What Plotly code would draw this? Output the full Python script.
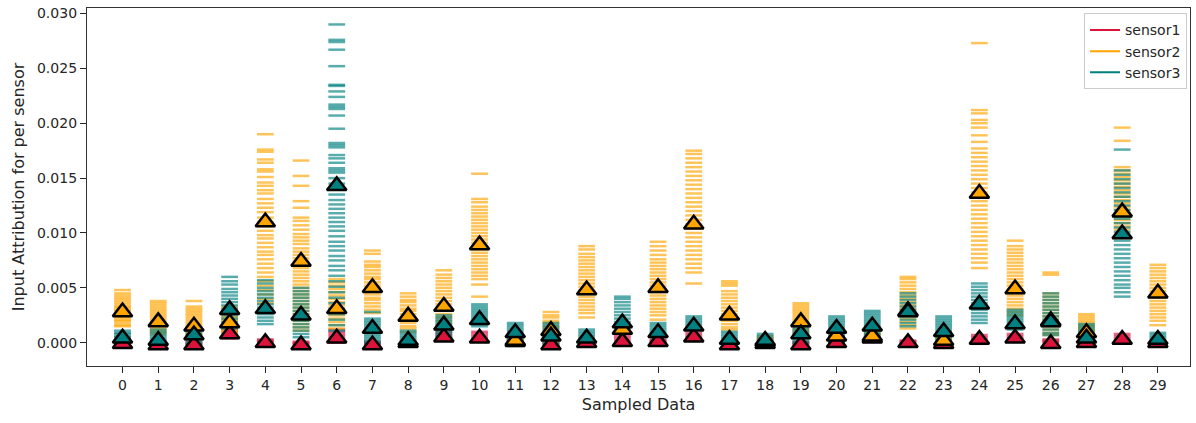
import plotly.graph_objects as go

# ---------------- data (values in units of 1e-3) ----------------
categories = list(range(30))
x_tick_labels = [str(c) for c in categories]
y_tick_values = [0, 5, 10, 15, 20, 25, 30]
y_tick_labels = ["0.000", "0.005", "0.010", "0.015", "0.020", "0.025", "0.030"]
sensor_names = ["sensor1", "sensor2", "sensor3"]

sensor1_samples = [
    [0.1, 0.0, -0.1, -0.2], [0.1, 0.0, -0.1, -0.2], [0.2, 0.0, -0.1, -0.2],
    [1.2, 1.0, 0.8, 0.6, 0.4], [0.3, 0.2, 0.1, 0.0], [0.1, 0.0, -0.1, -0.2],
    [1.2, 1.0, 0.8, 0.6, 0.4, 0.2, 0.0], [0.1, 0.0, -0.1, -0.2], [0.1, 0.0, -0.1],
    [1.2, 1.0, 0.8, 0.6, 0.4, 0.2], [1.0, 0.8, 0.6, 0.4, 0.2, 0.1], [0.3, 0.2, 0.1, 0.0],
    [0.1, 0.0, -0.1, -0.2], [0.2, 0.1, 0.0, -0.1], [0.6, 0.4, 0.2, 0.0, -0.1],
    [0.3, 0.2, 0.1, 0.0], [0.9, 0.7, 0.5, 0.3, 0.2], [0.1, 0.0, -0.1, -0.2],
    [0.1, 0.0, -0.1], [0.1, 0.0, -0.1, -0.2], [0.2, 0.1, 0.0, -0.1],
    [0.5, 0.4, 0.3], [0.2, 0.1, 0.0], [0.1, 0.0, -0.1, -0.2],
    [0.7, 0.5, 0.3, 0.1, -0.1], [0.8, 0.6, 0.4, 0.2], [0.3, 0.2, 0.1, 0.0],
    [0.2, 0.1, 0.0, -0.1], [0.8, 0.6, 0.4, 0.2], [0.1, 0.0, -0.1, -0.2],
]

sensor2_samples = [
    [4.8, 4.5, 4.3, 4.1, 3.9, 3.7, 3.5, 3.3, 3.2, 3.0, 2.9, 2.7, 2.6, 2.4, 2.3, 2.1, 2.0, 1.8, 1.6, 1.5],
    [3.8, 3.6, 3.4, 3.2, 3.0, 2.8, 2.6, 2.4, 2.2, 2.0, 1.8, 1.6, 1.4, 1.2, 1.0, 0.8],
    [3.8, 3.3, 3.1, 2.9, 2.7, 2.5, 2.3, 2.1, 1.9, 1.7, 1.5, 1.3, 1.1, 0.9, 0.7, 0.5],
    [3.3, 3.0, 2.8, 2.6, 2.4, 2.2, 2.0, 1.8, 1.6, 1.4, 1.2, 1.0, 0.8],
    [19.0, 17.6, 17.4, 16.7, 16.4, 15.8, 15.6, 15.1, 14.6, 14.3, 13.9, 13.6, 13.1, 12.7, 12.3,
     11.9, 11.4, 11.0, 10.6, 10.2, 9.8, 9.5, 9.1, 8.7, 8.3, 8.0, 7.6, 7.2, 6.8, 6.4, 6.0, 5.6,
     5.2, 4.8, 4.4, 4.0, 3.6],
    [16.6, 15.2, 14.3, 12.9, 12.3, 11.4, 11.1, 10.7, 10.3, 9.9, 9.6, 9.3, 9.0, 8.6, 8.3, 8.0,
     7.7, 7.4, 7.1, 6.8, 6.5, 6.2, 5.9, 5.6, 5.3, 5.0, 4.7, 4.4, 4.1, 3.8, 3.5, 3.2, 2.9, 2.6,
     2.3, 2.0, 1.7, 1.4, 1.1],
    [5.8, 5.5, 5.2, 4.9, 4.6, 4.3, 4.0, 3.7, 3.4, 3.1, 2.8, 2.5, 2.2, 1.9, 1.6, 1.3],
    [8.4, 8.1, 7.4, 7.1, 6.9, 6.6, 6.3, 6.0, 5.8, 5.5, 5.2, 5.0, 4.7, 4.4, 4.1, 3.9, 3.6, 3.3, 3.0, 2.7],
    [4.5, 4.2, 3.9, 3.7, 3.4, 3.1, 2.9, 2.6, 2.3, 2.1, 1.8, 1.5, 1.3, 1.0],
    [6.6, 6.2, 5.9, 5.6, 5.3, 5.0, 4.7, 4.4, 4.1, 3.8, 3.5, 3.2, 2.9, 2.6, 2.3, 2.0, 1.7, 1.4, 1.2],
    [15.4, 13.1, 12.8, 12.4, 12.1, 11.8, 11.5, 11.2, 10.9, 10.6, 10.3, 10.0, 9.7, 9.4, 9.1, 8.8,
     8.5, 8.2, 7.9, 7.6, 7.3, 7.0, 6.7, 6.4, 6.1, 5.8, 5.3, 4.2],
    [0.6, 0.5, 0.4, 0.3, 0.2, 0.1, 0.0],
    [2.8, 2.5, 2.3, 2.0, 1.8, 1.5, 1.3, 1.0, 0.8, 0.5, 0.3, 0.1],
    [8.8, 8.5, 8.1, 7.8, 7.5, 7.2, 6.9, 6.6, 6.3, 6.0, 5.7, 5.4, 5.1, 4.8, 4.5, 4.2, 3.9, 3.6,
     3.3, 3.0, 2.7, 2.3],
    [1.6, 1.4, 1.3, 1.2, 1.0, 0.9],
    [9.2, 8.8, 8.4, 8.0, 7.6, 7.3, 7.0, 6.7, 6.4, 6.1, 5.8, 5.5, 5.2, 4.9, 4.6, 4.3, 4.0, 3.7,
     3.4, 3.1, 2.8, 2.5, 2.1],
    [17.5, 17.2, 16.8, 16.4, 16.0, 15.6, 15.2, 14.8, 14.4, 14.0, 13.6, 13.2, 12.8, 12.4, 12.0,
     11.6, 11.2, 10.8, 10.4, 10.0, 9.6, 9.2, 8.8, 8.4, 8.0, 7.6, 7.2, 6.8, 6.4, 5.4],
    [5.6, 5.4, 5.2, 4.7, 4.4, 4.1, 3.8, 3.5, 3.2, 2.9, 2.6, 2.3, 2.0, 1.7, 1.4, 1.2],
    [0.6, 0.4, 0.3, 0.1, 0.0],
    [3.6, 3.4, 3.2, 3.0, 2.8, 2.6, 2.4, 2.2, 2.0, 1.8, 1.6, 1.4, 1.2, 1.0, 0.8],
    [0.9, 0.8, 0.7, 0.6, 0.5, 0.4, 0.3, 0.2],
    [0.9, 0.8, 0.7, 0.6, 0.5, 0.4, 0.3],
    [6.0, 5.8, 5.5, 5.2, 4.9, 4.6, 4.3, 4.0, 3.7, 3.4, 3.1, 2.8, 2.5, 2.2, 1.9, 1.6, 1.3],
    [0.6, 0.5, 0.4, 0.3, 0.2, 0.1, 0.0, -0.2],
    [27.3, 21.2, 20.9, 20.3, 20.0, 19.6, 18.9, 18.3, 17.7, 17.3, 16.9, 16.5, 16.1, 15.7, 15.3,
     14.9, 14.5, 14.1, 13.7, 13.3, 12.9, 12.5, 12.1, 11.7, 11.3, 10.9, 10.5, 10.1, 9.7, 9.3,
     8.9, 8.5, 8.1, 7.7, 7.3, 6.8],
    [9.3, 8.8, 8.5, 8.2, 7.9, 7.6, 7.3, 7.0, 6.7, 6.4, 6.1, 5.8, 5.5, 5.2, 4.9, 4.6, 4.3, 4.0,
     3.7, 3.4, 3.1, 2.8, 2.5],
    [6.4, 6.2, 4.5, 4.2, 3.9, 3.6, 3.3, 3.0, 2.7, 2.4, 2.1, 1.8, 1.5, 1.2, 0.9, 0.7],
    [2.6, 2.4, 2.2, 2.0, 1.8, 1.6, 1.4, 1.2, 1.0, 0.8, 0.6, 0.4, 0.2, 0.0],
    [19.6, 18.4, 16.0, 15.7, 15.4, 15.1, 14.8, 14.5, 14.2, 13.9, 13.6, 13.3, 13.0, 12.7, 12.4,
     12.1, 11.8, 11.5, 11.2, 10.9, 10.6, 10.3],
    [7.1, 6.8, 6.5, 6.2, 5.9, 5.6, 5.3, 5.0, 4.7, 4.4, 4.1, 3.8, 3.5, 3.2, 2.9, 2.6, 2.3, 2.0, 1.6],
]

sensor3_samples = [
    [1.1, 0.9, 0.8, 0.6, 0.5, 0.3, 0.2, 0.0, -0.2, -0.4],
    [1.2, 1.0, 0.8, 0.6, 0.4, 0.2, 0.0, -0.2, -0.3],
    [1.3, 1.1, 0.9, 0.7, 0.5, 0.3, 0.1, -0.1],
    [6.0, 5.6, 5.3, 4.9, 4.6, 4.3, 4.0, 3.7, 3.4, 3.1, 2.8, 2.5, 2.2, 1.9, 1.6, 1.3],
    [5.7, 5.4, 5.0, 4.7, 4.4, 4.1, 3.8, 3.5, 3.2, 2.9, 2.6, 2.3, 2.0, 1.7],
    [5.0, 4.7, 4.4, 4.1, 3.8, 3.5, 3.2, 2.9, 2.6, 2.3, 2.0, 1.7, 1.4, 1.1, 0.8, 0.5],
    [29.0, 27.6, 27.4, 26.7, 25.2, 23.5, 23.4, 22.9, 22.4, 21.7, 21.5, 21.3, 20.7, 19.5, 18.2,
     18.0, 17.8, 17.1, 16.8, 16.4, 15.9, 15.7, 15.5, 15.0, 14.5, 14.0, 13.5, 13.0, 12.6, 12.2,
     11.8, 11.4, 11.0, 10.6, 10.2, 9.7, 9.2, 8.8, 8.4, 7.9, 7.5, 7.0, 6.6, 6.1, 5.6, 5.1, 4.6,
     4.1, 3.6, 3.1, 2.6, 2.1, 1.6, 1.1],
    [2.8, 2.2, 2.0, 1.8, 1.6, 1.4, 1.2, 1.0, 0.8, 0.6, 0.4, 0.2, 0.0],
    [1.1, 0.9, 0.7, 0.5, 0.3, 0.1, -0.1, -0.2],
    [2.5, 2.3, 2.1, 1.9, 1.7, 1.5, 1.3, 1.1, 0.9, 0.7, 0.5],
    [3.5, 3.3, 3.1, 2.9, 2.7, 2.5, 2.3, 2.1, 1.9, 1.7, 1.5],
    [1.8, 1.6, 1.4, 1.2, 1.0, 0.8, 0.6, 0.4, 0.2, 0.0, -0.2, -0.3],
    [1.8, 1.6, 1.4, 1.2, 1.0, 0.8, 0.6, 0.4, 0.2, 0.0, -0.2, -0.3],
    [1.2, 1.0, 0.8, 0.6, 0.4, 0.2, 0.0, -0.2],
    [4.2, 4.0, 3.7, 3.4, 3.1, 2.8, 2.5, 2.2, 1.9, 1.6, 1.3, 1.0],
    [1.8, 1.6, 1.4, 1.2, 1.0, 0.8, 0.6, 0.5],
    [2.4, 2.2, 2.0, 1.8, 1.6, 1.4, 1.2],
    [1.0, 0.8, 0.6, 0.4, 0.2, 0.0, -0.2, -0.3],
    [0.8, 0.6, 0.4, 0.2, 0.0, -0.2],
    [1.8, 1.6, 1.4, 1.2, 1.0, 0.8, 0.6, 0.4, 0.2, 0.0],
    [2.4, 2.2, 2.0, 1.8, 1.6, 1.4, 1.2, 1.0, 0.8, 0.6, 0.4, 0.2, 0.0, -0.2, -0.3],
    [2.9, 2.7, 2.5, 2.3, 2.1, 1.9, 1.7, 1.5, 1.3, 1.1, 0.9, 0.7, 0.5],
    [4.5, 4.2, 3.9, 3.6, 3.3, 3.0, 2.7, 2.4, 2.1, 1.8, 1.5],
    [2.4, 2.2, 2.0, 1.8, 1.6, 1.4, 1.2, 1.0, 0.8, 0.6, 0.4, 0.2, 0.0, -0.2, -0.4],
    [5.4, 5.1, 4.8, 4.5, 4.2, 3.9, 3.6, 3.3, 3.0, 2.7, 2.4, 2.1, 1.8],
    [3.0, 2.8, 2.6, 2.4, 2.2, 2.0, 1.8, 1.6, 1.4, 1.2],
    [4.5, 4.2, 3.9, 3.6, 3.3, 3.0, 2.7, 2.4, 2.1, 1.8, 1.5, 1.2, 0.9, 0.7],
    [1.7, 1.5, 1.3, 1.1, 0.9, 0.7, 0.5, 0.3, 0.1, -0.1, -0.2],
    [17.6, 15.7, 15.3, 14.9, 14.5, 14.1, 13.7, 13.3, 12.9, 12.5, 12.1, 11.7, 11.3, 10.9, 10.5,
     10.1, 9.7, 9.3, 8.9, 8.5, 8.1, 7.7, 7.3, 6.9, 6.5, 6.1, 5.7, 5.3, 5.0, 4.6, 4.2],
    [0.9, 0.7, 0.5, 0.3, 0.1, -0.1, -0.3],
]

sensor1_mean = [-0.1, -0.2, -0.2, 0.8, 0.0, -0.2, 0.4, -0.2, 0.0, 0.5, 0.4, 0.1, -0.2, 0.0, 0.1,
                0.1, 0.5, -0.2, -0.1, -0.2, 0.0, 0.4, 0.0, -0.1, 0.3, 0.4, -0.1, 0.0, 0.3, 0.0]
sensor2_mean = [2.8, 1.9, 1.5, 1.8, 11.0, 7.4, 3.1, 5.0, 2.4, 3.3, 8.9, 0.2, 1.1, 4.8, 1.2,
                5.0, 10.8, 2.5, 0.1, 1.9, 0.6, 0.6, 2.9, 0.2, 13.6, 4.9, 2.0, 0.9, 11.9, 4.5]
sensor3_mean = [0.4, 0.2, 0.7, 3.0, 3.1, 2.5, 14.3, 1.3, 0.2, 1.6, 2.1, 0.9, 0.6, 0.4, 1.8,
                0.9, 1.5, 0.3, 0.2, 0.8, 1.3, 1.5, 2.8, 1.0, 3.5, 1.7, 1.9, 0.4, 9.9, 0.3]

# ---------------- styling ----------------
solid_colors = ["#DC143C", "#FFA500", "#008080"]
dash_colors = ["rgba(220,20,60,0.65)", "rgba(255,165,0,0.65)", "rgba(0,128,128,0.65)"]
text_color = "#262626"
font_family = "DejaVu Sans, sans-serif"

fig = go.Figure()

all_samples = [sensor1_samples, sensor2_samples, sensor3_samples]
all_means = [sensor1_mean, sensor2_mean, sensor3_mean]

for samples, dcol in zip(all_samples, dash_colors):
    xs, ys = [], []
    for c, vals in zip(categories, samples):
        xs.extend([c] * len(vals))
        ys.extend(vals)
    fig.add_trace(go.Scatter(
        x=xs, y=ys, mode="markers", showlegend=False, hoverinfo="skip",
        marker=dict(symbol="line-ew", size=12, line=dict(width=2.5, color=dcol)),
    ))

for means, col in zip(all_means, solid_colors):
    fig.add_trace(go.Scatter(
        x=categories, y=means, mode="markers", showlegend=False,
        marker=dict(symbol="triangle-up", size=17, color=col,
                    line=dict(width=2.5, color="black")),
    ))

for name, col in zip(sensor_names, solid_colors):
    fig.add_trace(go.Scatter(
        x=[None], y=[None], mode="lines", name=name,
        line=dict(color=col, width=2),
    ))

fig.update_layout(
    width=1196, height=423,
    margin=dict(l=87, r=5, t=6, b=57),
    paper_bgcolor="white", plot_bgcolor="white",
    font=dict(family=font_family, size=14, color=text_color),
    legend=dict(
        x=0.9973, y=0.985, xanchor="right", yanchor="top",
        bgcolor="rgba(255,255,255,0.8)", bordercolor="#cccccc", borderwidth=1,
        font=dict(size=14, color=text_color), itemwidth=30,
    ),
)

fig.update_xaxes(
    range=[-0.995, 29.9],
    tickmode="array", tickvals=categories, ticktext=x_tick_labels,
    ticks="outside", ticklen=6, tickwidth=1.2, tickcolor=text_color,
    showline=True, mirror=True, linecolor="#333333", linewidth=1.3,
    showgrid=False, zeroline=False,
    title=dict(text="Sampled Data", font=dict(size=16), standoff=6),
    tickfont=dict(size=14),
)
fig.update_yaxes(
    range=[-2.12, 30.5],
    tickmode="array", tickvals=y_tick_values, ticktext=y_tick_labels,
    ticks="outside", ticklen=6, tickwidth=1.2, tickcolor=text_color,
    showline=True, mirror=True, linecolor="#333333", linewidth=1.3,
    showgrid=False, zeroline=False,
    title=dict(text="Input Attribution for per sensor", font=dict(size=16), standoff=8),
    tickfont=dict(size=14),
)

fig.write_html("out.html", config={"displayModeBar": False},
               post_script="document.body.style.margin='0';")
